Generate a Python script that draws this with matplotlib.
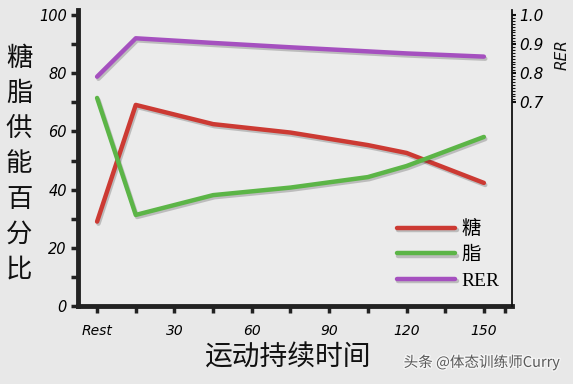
import matplotlib
matplotlib.use("Agg")
import matplotlib.pyplot as plt
import matplotlib.patheffects as pe
from matplotlib.ticker import FixedLocator

# ---- data ----
minutes = [0, 15, 45, 75, 105, 120, 150]
carb = [29.0, 69.1, 62.5, 59.6, 55.3, 52.6, 42.3]
fat = [71.5, 31.3, 38.1, 40.7, 44.3, 48.1, 58.1]
rer = [0.788, 0.920, 0.904, 0.889, 0.875, 0.868, 0.857]
x_tick_pos = [0, 30, 60, 90, 120, 150]
x_tick_labels = ["Rest", "30", "60", "90", "120", "150"]
y_ticks = [0, 20, 40, 60, 80, 100]
rer_ticks = [0.7, 0.8, 0.9, 1.0]
series_names = ["糖", "脂", "RER"]

CJK = ["Noto Sans CJK SC", "DejaVu Sans"]
bg = "#e8e8e8"

fig = plt.figure(figsize=(5.73, 3.84), dpi=100, facecolor=bg)
ax = fig.add_axes([78 / 573, 1 - 306 / 384, (512 - 78) / 573, (306 - 10) / 384])
ax.set_facecolor("#ebebeb")

ylim_top = (306 - 10) / 2.91
ax.set_xlim(-7.4, 160.9)
ax.set_ylim(0, ylim_top)

shadow = [pe.SimpleLineShadow(offset=(1, -1.5), alpha=0.25, shadow_color="#333333"), pe.Normal()]

l1, = ax.plot(minutes, carb, color="#cc3a33", lw=3.2, solid_capstyle="round",
              solid_joinstyle="round", path_effects=shadow, label=series_names[0])
l2, = ax.plot(minutes, fat, color="#5cb547", lw=3.2, solid_capstyle="round",
              solid_joinstyle="round", path_effects=shadow, label=series_names[1])

ax2 = ax.twinx()
ax2.set_ylim(0, ylim_top / 100)
l3, = ax2.plot(minutes, rer, color="#a550bf", lw=3.2, solid_capstyle="round",
               solid_joinstyle="round", path_effects=shadow, label=series_names[2])

# spines
ax.spines["top"].set_visible(False)
ax2.spines["top"].set_visible(False)
ax.spines["right"].set_visible(False)
ax2.spines["left"].set_visible(False)
ax2.spines["bottom"].set_visible(False)
ax.spines["left"].set_linewidth(3.5)
ax.spines["bottom"].set_linewidth(3.5)
ax.spines["left"].set_color("#222222")
ax.spines["bottom"].set_color("#222222")
ax2.spines["right"].set_linewidth(1.3)
ax2.spines["right"].set_color("#111111")

# left ticks
ax.set_yticks(y_ticks)
ax.yaxis.set_minor_locator(FixedLocator([10, 30, 50, 70, 90]))
ax.tick_params(axis="y", which="both", direction="out", length=5, width=2.5,
               color="#222222", labelsize=10.5, pad=3)
for t in ax.get_yticklabels():
    t.set_fontstyle("italic")

# bottom ticks
ax.set_xticks(x_tick_pos)
ax.set_xticklabels(x_tick_labels)
ax.xaxis.set_minor_locator(FixedLocator([15, 45, 75, 105, 135, 158]))
ax.tick_params(axis="x", which="both", direction="out", length=5, width=2.5,
               color="#222222", labelsize=10, pad=8)
for t in ax.get_xticklabels():
    t.set_fontstyle("italic")

# right ticks
ax2.set_yticks(rer_ticks)
ax2.set_yticklabels(["0.7", "0.8", "0.9", "1.0"])
ax2.yaxis.set_minor_locator(FixedLocator([0.70 + 0.01 * i for i in range(31)]))
ax2.tick_params(axis="y", which="major", direction="out", length=3, width=1.5,
                color="#111111", labelsize=11, pad=2)
ax2.tick_params(axis="y", which="minor", direction="out", length=2, width=0.8,
                color="#111111")
for t in ax2.get_yticklabels():
    t.set_fontstyle("italic")

# labels
fig.text(19 / 573, 1 - 164 / 384, "\n".join("糖脂供能百分比"), family=CJK,
         fontsize=19, ha="center", va="center", linespacing=1.39, color="#111111",
         fontweight="medium")
fig.text(288 / 573, 1 - 358 / 384, "运动持续时间", family=CJK, fontsize=20,
         ha="center", va="center", color="#111111", fontweight="medium")
fig.text(562 / 573, 1 - 55 / 384, "RER", fontsize=11, fontstyle="italic",
         rotation=90, ha="center", va="center", color="#111111")
fig.text(482 / 573, 1 - 362 / 384, "头条 @体态训练师Curry", family=CJK, fontsize=10.5,
         ha="center", va="center", color="#5a5a5a",
         path_effects=[pe.withStroke(linewidth=2, foreground="#f4f4f4")])

leg = ax.legend(handles=[l1, l2, l3], loc="lower left",
                bbox_to_anchor=((397 - 78) / 434, (306 - 290) / 296),
                frameon=False, handlelength=3.0, handletextpad=0.3,
                labelspacing=0.42, borderpad=0, borderaxespad=0,
                prop={"family": ["Liberation Serif", "Noto Sans CJK SC"], "size": 14})
for h in leg.legend_handles:
    h.set_linewidth(3.2)

fig.savefig("out.png", dpi=100, facecolor=bg)
